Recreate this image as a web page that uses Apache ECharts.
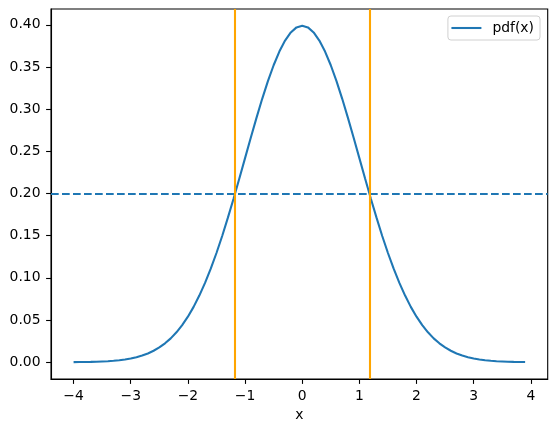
<!DOCTYPE html>
<html>
<head>
<meta charset="utf-8">
<script src="https://cdn.jsdelivr.net/npm/echarts@6/dist/echarts.min.js"></script>
<style>
html,body{margin:0;padding:0;background:#fff;}
#chart{width:556px;height:432px;}
</style>
</head>
<body>
<div id="chart"></div>
<script>
const xValues = [-4.0,-3.9,-3.8,-3.7,-3.6,-3.5,-3.4,-3.3,-3.2,-3.1,-3.0,-2.9,-2.8,-2.7,-2.6,-2.5,-2.4,-2.3,-2.2,-2.1,
  -2.0,-1.9,-1.8,-1.7,-1.6,-1.5,-1.4,-1.3,-1.2,-1.1,-1.0,-0.9,-0.8,-0.7,-0.6,-0.5,-0.4,-0.3,-0.2,-0.1,
  0.0,0.1,0.2,0.3,0.4,0.5,0.6,0.7,0.8,0.9,1.0,1.1,1.2,1.3,1.4,1.5,1.6,1.7,1.8,1.9,
  2.0,2.1,2.2,2.3,2.4,2.5,2.6,2.7,2.8,2.9,3.0,3.1,3.2,3.3,3.4,3.5,3.6,3.7,3.8,3.9];
const pdfValues = [0.0001,0.0002,0.0003,0.0004,0.0006,0.0009,0.0012,0.0017,0.0024,0.0033,0.0044,0.0060,0.0079,0.0104,0.0136,0.0175,0.0224,0.0283,0.0355,0.0440,
  0.0540,0.0656,0.0790,0.0940,0.1109,0.1295,0.1497,0.1714,0.1942,0.2179,0.2420,0.2661,0.2897,0.3123,0.3332,0.3521,0.3683,0.3814,0.3910,0.3970,
  0.3989,0.3970,0.3910,0.3814,0.3683,0.3521,0.3332,0.3123,0.2897,0.2661,0.2420,0.2179,0.1942,0.1714,0.1497,0.1295,0.1109,0.0940,0.0790,0.0656,
  0.0540,0.0440,0.0355,0.0283,0.0224,0.0175,0.0136,0.0104,0.0079,0.0060,0.0044,0.0033,0.0024,0.0017,0.0012,0.0009,0.0006,0.0004,0.0003,0.0002];
const hLineValue = 0.2;
const vLineValues = [-1.175, 1.175];
const xTicks = [-4,-3,-2,-1,0,1,2,3,4];
const yTicks = [0.00,0.05,0.10,0.15,0.20,0.25,0.30,0.35,0.40];
const seriesName = 'pdf(x)';
const xLabel = 'x';

const chart = echarts.init(document.getElementById('chart'), null, {renderer:'canvas'});
const fontFamily = 'DejaVu Sans';
const fs = 13.9;
const tickStyle = {show:true, length:4.9, lineStyle:{color:'#000', width:1.1}};
chart.setOption({
  animation:false,
  backgroundColor:'#fff',
  grid:{left:51, right:8.3, top:9, bottom:53, show:true, borderColor:'#000', borderWidth:1.1, backgroundColor:'transparent'},
  legend:{
    show:true, right:16, top:16, orient:'vertical',
    data:[{name:seriesName, icon:'rect'}],
    backgroundColor:'#fff', borderColor:'#d0d0d0', borderWidth:1, borderRadius:3,
    padding:[5,6,5,3.5], itemWidth:30, itemHeight:2.08, itemGap:5,
    itemStyle:{color:'#1f77b4', borderWidth:0},
    textStyle:{fontFamily, fontSize:fs, color:'#000', padding:[0,0,0,6], height:14, lineHeight:14}
  },
  xAxis:{
    type:'value', min:-4.395, max:4.295,
    name:xLabel, nameLocation:'middle', nameGap:28,
    nameTextStyle:{fontFamily, fontSize:fs, color:'#000'},
    axisLine:{show:true, onZero:false, lineStyle:{color:'#000', width:1.1}},
    axisTick:Object.assign({customValues:xTicks}, tickStyle),
    axisLabel:{customValues:xTicks, fontFamily, fontSize:fs, color:'#000', margin:10,
      formatter:v=>String(v).replace('-', '\u2212')},
    splitLine:{show:false}
  },
  yAxis:{
    type:'value', min:-0.0199, max:0.4188,
    axisLine:{show:true, onZero:false, lineStyle:{color:'#000', width:1.1}},
    axisTick:Object.assign({customValues:yTicks}, tickStyle),
    axisLabel:{customValues:yTicks, fontFamily, fontSize:fs, color:'#000', margin:10.5,
      formatter:v=>v.toFixed(2)},
    splitLine:{show:false}
  },
  series:[{
    name:seriesName, type:'line', symbol:'none', showSymbol:false,
    data:xValues.map((x,i)=>[x,pdfValues[i]]),
    lineStyle:{color:'#1f77b4', width:2.08},
    itemStyle:{color:'#1f77b4'},
    z:2,
    markLine:{
      silent:true, symbol:['none','none'], animation:false,
      label:{show:false},
      data:[
        {yAxis:hLineValue, lineStyle:{color:'#1f77b4', width:2.08, type:[7.7,3.3]}},
        ...vLineValues.map(v=>({xAxis:v, lineStyle:{color:'#ffa500', width:2.08, type:'solid'}}))
      ]
    }
  }]
});
</script>
</body>
</html>
